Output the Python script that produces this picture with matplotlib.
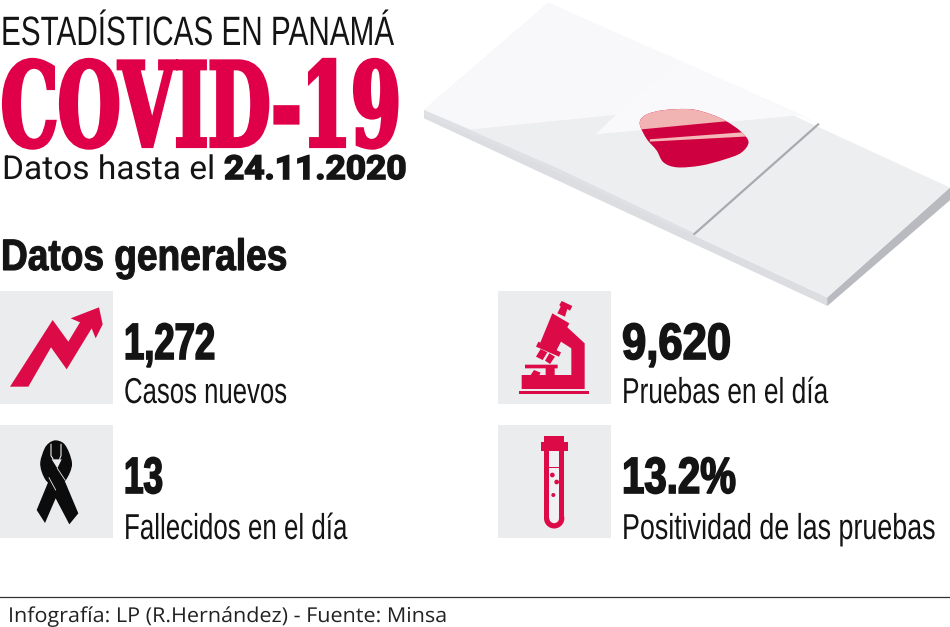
import matplotlib
matplotlib.use("Agg")
import matplotlib.pyplot as plt
from matplotlib.patches import Polygon, Rectangle, Circle, PathPatch
from matplotlib.patheffects import AbstractPathEffect
from matplotlib.path import Path
from matplotlib.transforms import Affine2D

# ---- content ----
title_top = "ESTADÍSTICAS EN PANAMÁ"
title_main = "COVID-19"
date_label = "Datos hasta el"
date_value = "24.11.2020"
section = "Datos generales"
stat_values = ["1,272", "9,620", "13", "13.2%"]
stat_labels = ["Casos nuevos", "Pruebas en el día", "Fallecidos en el día", "Positividad de las pruebas"]
footer = "Infografía: LP (R.Hernández) - Fuente: Minsa"

RED = "#dc0a47"
TITLE_RED = "#e0004a"
INK = "#141414"
BOX = "#ebecee"
SANS = ["Liberation Sans", "DejaVu Sans"]
SLAB = ["DejaVu Serif"]
ROBOTO = ["Roboto", "DejaVu Sans"]

fig = plt.figure(figsize=(9.5, 6.27), dpi=100, facecolor="white")
ax = fig.add_axes([0, 0, 1, 1])
ax.set_xlim(0, 950)
ax.set_ylim(627, 0)
ax.axis("off")
renderer = fig.canvas.get_renderer()


def z1(pts):
    return [(420 + x * 1.014 / 3, y * 1.014 / 3) for x, y in pts]


def z2(pts):
    return [(x / 3, 285 + y / 3) for x, y in pts]


def z4(pts):
    return [(25 + x / 3, 435 + y / 3) for x, y in pts]


def z5(pts):
    return [(510 + x / 3, 295 + y / 3) for x, y in pts]


def poly(pts, color, z=2, **kw):
    p = Polygon(pts, closed=True, facecolor=color, edgecolor="none", zorder=z, **kw)
    ax.add_patch(p)
    return p


def smooth(pts):
    """Closed Catmull-Rom outline as a bezier path."""
    n = len(pts)
    verts = [pts[0]]
    codes = [Path.MOVETO]
    for i in range(n):
        p0, p1, p2, p3 = pts[i - 1], pts[i], pts[(i + 1) % n], pts[(i + 2) % n]
        c1 = (p1[0] + (p2[0] - p0[0]) / 6, p1[1] + (p2[1] - p0[1]) / 6)
        c2 = (p2[0] - (p3[0] - p1[0]) / 6, p2[1] - (p3[1] - p1[1]) / 6)
        verts += [c1, c2, p2]
        codes += [Path.CURVE4] * 3
    return Path(verts, codes)


class Tall(AbstractPathEffect):
    """Scale glyphs vertically about the baseline, optionally thickening them."""

    def __init__(self, y0, sy, stroke, color):
        super().__init__()
        self.y0, self.sy, self.stroke, self.color = y0, sy, stroke, color

    def draw_path(self, rend, gc, tpath, affine, rgbFace=None):
        aff = affine + Affine2D().translate(0, -self.y0).scale(1, self.sy).translate(0, self.y0)
        if self.stroke:
            gc0 = rend.new_gc()
            gc0.copy_properties(gc)
            gc0.set_linewidth(self.stroke)
            gc0.set_foreground(self.color)
            gc0.set_joinstyle("miter")
            rend.draw_path(gc0, tpath, aff, rgbFace)
            gc0.restore()
        else:
            rend.draw_path(gc, tpath, aff, rgbFace)


def text(x, right, y, s, px, family, weight="normal", color=INK, stroke=0.0):
    """Real text filling x..right (pixels) on baseline y, with a cap size of px."""
    t = ax.text(x, y, s, fontsize=px * 0.72, family=family, weight=weight, color=color,
                va="baseline", ha="left", zorder=10)
    k = (right - x) / t.get_window_extent(renderer).width
    t.set_fontsize(px * 0.72 * k)
    t.set_path_effects([Tall(627 - y, 1 / k, stroke, color)])
    return t


# ---- microscope slide ----
poly(z1([(12, 325), (12, 350), (1205, 905), (1568, 592), (1568, 555), (1205, 880)]), "#dcdde1", 1)
poly(z1([(1205, 880), (1205, 905), (1568, 592), (1568, 555)]), "#b9b9c0", 1.1)
poly(z1([(380, 8), (12, 325), (1205, 880), (1568, 555)]), "#edeef0", 1.2)
poly(z1([(12, 325), (405, 497), (812, 690), (812, 700), (405, 510), (12, 340)]), "#dfe0e4", 1.3)
poly(z1([(380, 8), (770, 180), (1130, 340), (520, 397), (580, 340), (150, 383), (12, 325)]), "#f8f8fa", 1.4)
poly(z1([(770, 180), (1178, 368), (1130, 340), (520, 397), (600, 320)]), "#f9f9fb", 1.45)
ax.plot(*zip(*z1([(1178, 368), (812, 692)])), color="#a9a9af", lw=1.6, zorder=1.6)

blob_pts = z1([(650, 365), (668, 340), (720, 326), (800, 323), (860, 338), (905, 358), (948, 388),
               (972, 420), (950, 452), (900, 472), (830, 490), (760, 495), (720, 480), (700, 445), (670, 410)])
blob = PathPatch(smooth(blob_pts), facecolor="#cf003f", edgecolor="none", zorder=3)
ax.add_patch(blob)
light = poly(z1([(600, 300), (1000, 300), (1000, 350), (600, 388)]), "#f2b3b3", 3.1)
light.set_clip_path(blob)
stripe = poly(z1([(680, 412), (1000, 388), (1000, 402), (680, 419)]), "#f4b8b8", 3.2)
stripe.set_clip_path(blob)

# ---- icon boxes ----
for x0, y0 in [(0, 291), (498, 291), (0, 425), (498, 425)]:
    ax.add_patch(Rectangle((x0, y0), 112.5, 112.5, facecolor=BOX, edgecolor="none", zorder=1))

# arrow
poly(z2([(30, 305), (158, 105), (205, 170), (240, 112), (212, 100), (297, 67), (308, 118), (287, 160),
         (275, 130), (200, 253), (153, 187), (85, 305)]), RED)

# ribbon
ribbon_top = smooth(z4([(92, 16), (116, 25), (132, 52), (141, 85), (135, 112), (118, 140), (92, 150),
                        (66, 140), (50, 110), (46, 80), (58, 42), (72, 24)]))
ax.add_patch(PathPatch(ribbon_top, facecolor="#0c0c0c", edgecolor="none", zorder=2))
poly(z4([(118, 135), (160, 235), (133, 268), (92, 190), (60, 264), (35, 225), (70, 140)]), "#0c0c0c")
poly(z4([(80, 73), (110, 73), (97, 100)]), BOX, 2.1)
ax.plot(*zip(*z4([(78, 28), (78, 62), (84, 72)])), color=BOX, lw=0.8, zorder=2.2)
ax.plot(*zip(*z4([(108, 28), (108, 62), (104, 72)])), color=BOX, lw=0.8, zorder=2.2)
ax.plot(*zip(*z4([(97, 100), (120, 135)])), color=BOX, lw=0.6, zorder=2.2)
ax.plot(*zip(*z4([(72, 128), (92, 165)])), color=BOX, lw=0.6, zorder=2.2)

# microscope
poly(z5([(27, 287), (238, 287), (238, 297), (27, 297)]), RED)
poly(z5([(35, 240), (62, 240), (72, 225), (92, 233), (88, 240), (107, 240), (107, 220), (45, 220), (45, 209),
         (143, 209), (143, 220), (134, 220), (134, 240), (184, 240), (184, 160), (153, 140), (135, 175),
         (88, 150), (127, 55), (178, 85), (172, 97), (224, 145), (224, 282), (35, 282)]), RED)
poly(z5([(155, 18), (187, 33), (180, 47), (172, 42), (165, 65), (142, 55), (152, 35), (148, 30)]), RED)
poly(z5([(85, 140), (153, 172), (147, 185), (78, 155)]), RED)
poly(z5([(92, 162), (112, 172), (98, 195), (78, 185)]), RED)
poly(z5([(118, 175), (135, 185), (120, 207), (105, 197)]), RED)

# test tube
ax.add_patch(Rectangle((495 + 147 / 3, 285 + 452 / 3), 61 / 3, 20 / 3, facecolor=RED, edgecolor="none", zorder=2))
ax.add_patch(Rectangle((495 + 137 / 3, 285 + 470 / 3), 81 / 3, 27 / 3, facecolor=RED, edgecolor="none", zorder=2))
ax.add_patch(Rectangle((495 + 147 / 3, 285 + 497 / 3), 61 / 3, 203 / 3, facecolor=RED, edgecolor="none", zorder=2))
ax.add_patch(Circle((495 + 177.5 / 3, 285 + 700 / 3), 30.5 / 3, facecolor=RED, edgecolor="none", zorder=2))
ax.add_patch(Rectangle((495 + 163 / 3, 285 + 497 / 3), 29 / 3, 203 / 3, facecolor="#f1f1f3", edgecolor="none", zorder=2.1))
ax.add_patch(Circle((495 + 177.5 / 3, 285 + 700 / 3), 14.5 / 3, facecolor="#f1f1f3", edgecolor="none", zorder=2.1))
ax.add_patch(Rectangle((495 + 163 / 3, 285 + 545 / 3), 29 / 3, 5 / 3, facecolor=RED, edgecolor="none", zorder=2.2))
for cx, cy, r in [(172, 570, 7), (185, 591, 7), (175, 630, 6)]:
    ax.add_patch(Circle((495 + cx / 3, 285 + cy / 3), r / 3, facecolor=RED, edgecolor="none", zorder=2.2))

# ---- header text ----
text(1, 394, 45, title_top, 41, SANS)
text(1, 401, 146, title_main, 116, SLAB, weight="bold", color=TITLE_RED, stroke=3)
text(2, 215, 179, date_label, 33, ROBOTO)
text(224, 406, 179, date_value, 33, ROBOTO, weight="bold", stroke=1.2)
text(1, 287, 270, section, 44, SANS, weight="bold", stroke=0.8)

# ---- stats ----
text(124, 215, 359, stat_values[0], 51, SANS, weight="bold", stroke=1.2)
text(124, 287, 403, stat_labels[0], 36, SANS)
text(622, 731, 359, stat_values[1], 51, SANS, weight="bold", stroke=1.2)
text(622, 828, 403, stat_labels[1], 36, SANS)
text(124, 163, 493, stat_values[2], 51, SANS, weight="bold", stroke=1.2)
text(124, 347, 539, stat_labels[2], 36, SANS)
text(622, 736, 493, stat_values[3], 51, SANS, weight="bold", stroke=1.2)
text(622, 935, 539, stat_labels[3], 36, SANS)

# ---- footer ----
ax.plot([0, 950], [597, 597], color="#333333", lw=0.9, zorder=5)
text(8, 447, 622, footer, 20.5, ["Open Sans", "DejaVu Sans"], color="#222222")

fig.savefig("out.png", dpi=100, facecolor="white")
